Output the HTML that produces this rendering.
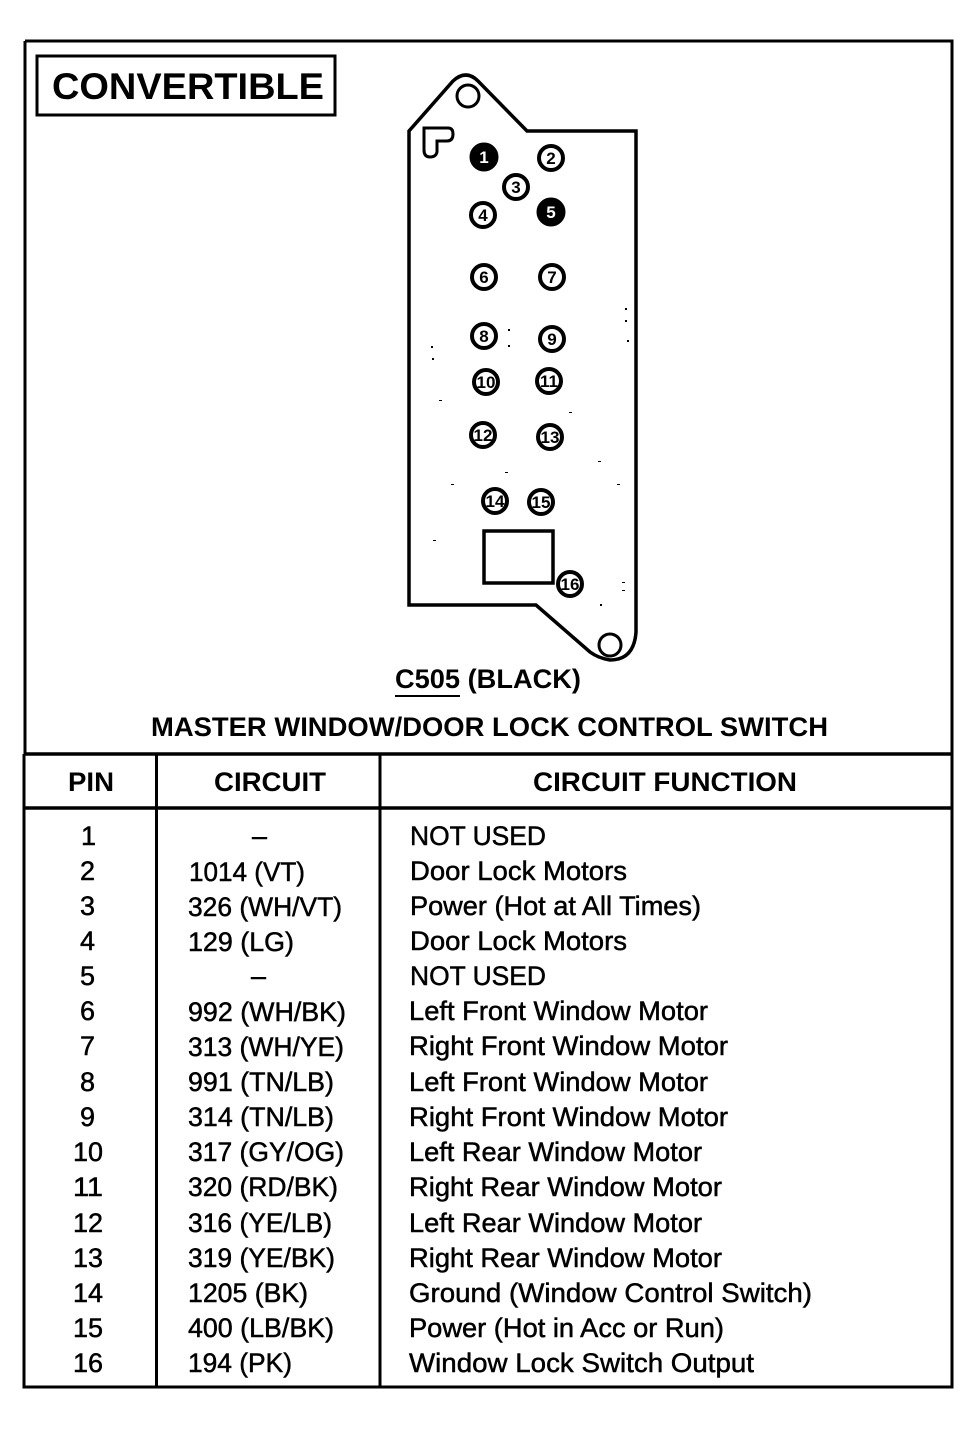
<!DOCTYPE html>
<html><head><meta charset="utf-8"><style>
html,body{margin:0;padding:0;background:#fff}
svg{display:block}
text{font-family:"Liberation Sans",sans-serif;fill:#000}
.t text{font-size:27px;stroke:#000;stroke-width:.5px}
.b{font-weight:bold}
.n text{font-size:17px;text-anchor:middle;font-weight:bold}
.n circle{fill:#fff;stroke:#000;stroke-width:4}
</style></head><body>
<svg width="980" height="1440" viewBox="0 0 980 1440" xmlns="http://www.w3.org/2000/svg">
<rect width="980" height="1440" fill="#fff"/>
<g fill="none" stroke="#000" stroke-width="3">
<path d="M25 41H952V1387H24V754M25 754V41"/>
<path d="M25 754H952" stroke-width="3.5"/>
<path d="M25 808H952" stroke-width="3.5"/>
<path d="M156.500 755V1386M380 755V1386"/>
<rect x="37" y="56" width="298" height="59"/>
<path d="M409 131 L453 81 Q466 69 478 81 L527 131 H636 V632 Q634 660 610 660 Q598 658 590 652 L536 605 H409 Z" stroke-width="3.500"/>
<circle cx="468" cy="96" r="11"/>
<circle cx="610" cy="645" r="11"/>
<path d="M424 128 H448 Q453 128 453 134 V134 Q453 141 447 141 H437 V152 Q436 157 430 157 Q424 157 424 150 Z"/>
<rect x="484" y="531" width="69" height="52" stroke-width="3.500"/>
<path d="M395 696H460" stroke-width="2"/>
</g>
<g class="n">
<circle cx="484" cy="157" r="12.500" style="fill:#000"/><text x="484" y="163" style="fill:#fff">1</text>
<circle cx="551" cy="158" r="12"/><text x="551" y="164">2</text>
<circle cx="516" cy="187" r="12"/><text x="516" y="193">3</text>
<circle cx="483" cy="215" r="12"/><text x="483" y="221">4</text>
<circle cx="551" cy="212" r="12.500" style="fill:#000"/><text x="551" y="218" style="fill:#fff">5</text>
<circle cx="484" cy="277" r="12"/><text x="484" y="283">6</text>
<circle cx="552" cy="277" r="12"/><text x="552" y="283">7</text>
<circle cx="484" cy="336" r="12"/><text x="484" y="342">8</text>
<circle cx="552" cy="339" r="12"/><text x="552" y="345">9</text>
<circle cx="486" cy="382" r="12"/><text x="486" y="388">10</text>
<circle cx="549" cy="381" r="12"/><text x="549" y="387">11</text>
<circle cx="483" cy="435" r="12"/><text x="483" y="441">12</text>
<circle cx="550" cy="437" r="12"/><text x="550" y="443">13</text>
<circle cx="495" cy="501" r="12"/><text x="495" y="507">14</text>
<circle cx="541" cy="502" r="12"/><text x="541" y="508">15</text>
<circle cx="570" cy="584" r="12"/><text x="570" y="590">16</text>
</g>
<g fill="#000">
<rect x="508" y="329" width="2" height="2"/><rect x="508" y="345" width="2" height="2"/><rect x="431" y="346" width="2" height="2"/><rect x="432" y="358" width="2" height="2"/><rect x="625" y="308" width="2" height="2"/><rect x="625" y="320" width="2" height="2"/><rect x="627" y="340" width="2" height="2"/><rect x="439" y="400" width="3" height="1"/><rect x="569" y="412" width="3" height="1"/><rect x="598" y="461" width="3" height="1"/><rect x="505" y="472" width="3" height="1"/><rect x="451" y="484" width="3" height="1"/><rect x="617" y="484" width="3" height="1"/><rect x="433" y="540" width="3" height="1"/><rect x="622" y="582" width="3" height="1"/><rect x="622" y="590" width="3" height="1"/><rect x="600" y="604" width="2" height="2"/>
</g>
<text class="b" x="52" y="99" font-size="37" textLength="272" lengthAdjust="spacingAndGlyphs">CONVERTIBLE</text>
<text class="b" x="395" y="688" font-size="27" textLength="186" lengthAdjust="spacingAndGlyphs">C505 (BLACK)</text>
<text class="b" x="151" y="736" font-size="27" textLength="677" lengthAdjust="spacingAndGlyphs">MASTER WINDOW/DOOR LOCK CONTROL SWITCH</text>
<text class="b" x="68" y="791" font-size="27" textLength="46" lengthAdjust="spacingAndGlyphs">PIN</text>
<text class="b" x="214" y="791" font-size="27" textLength="112" lengthAdjust="spacingAndGlyphs">CIRCUIT</text>
<text class="b" x="533" y="791" font-size="27" textLength="264" lengthAdjust="spacingAndGlyphs">CIRCUIT FUNCTION</text>
<g class="t">
<text x="81" y="845">1</text><text x="252" y="845" textLength="15" lengthAdjust="spacingAndGlyphs">–</text><text x="410" y="845" textLength="136" lengthAdjust="spacingAndGlyphs">NOT USED</text>
<text x="80" y="880">2</text><text x="189" y="881" textLength="116" lengthAdjust="spacingAndGlyphs">1014 (VT)</text><text x="410" y="880" textLength="217" lengthAdjust="spacingAndGlyphs">Door Lock Motors</text>
<text x="80" y="915">3</text><text x="188" y="916" textLength="154" lengthAdjust="spacingAndGlyphs">326 (WH/VT)</text><text x="410" y="915" textLength="291" lengthAdjust="spacingAndGlyphs">Power (Hot at All Times)</text>
<text x="80" y="950">4</text><text x="188" y="951" textLength="106" lengthAdjust="spacingAndGlyphs">129 (LG)</text><text x="410" y="950" textLength="217" lengthAdjust="spacingAndGlyphs">Door Lock Motors</text>
<text x="80" y="985">5</text><text x="251" y="985" textLength="15" lengthAdjust="spacingAndGlyphs">–</text><text x="410" y="985" textLength="136" lengthAdjust="spacingAndGlyphs">NOT USED</text>
<text x="80" y="1020">6</text><text x="188" y="1021" textLength="158" lengthAdjust="spacingAndGlyphs">992 (WH/BK)</text><text x="409" y="1020" textLength="299" lengthAdjust="spacingAndGlyphs">Left Front Window Motor</text>
<text x="80" y="1055">7</text><text x="188" y="1056" textLength="156" lengthAdjust="spacingAndGlyphs">313 (WH/YE)</text><text x="409" y="1055" textLength="319" lengthAdjust="spacingAndGlyphs">Right Front Window Motor</text>
<text x="80" y="1091">8</text><text x="188" y="1091" textLength="146" lengthAdjust="spacingAndGlyphs">991 (TN/LB)</text><text x="409" y="1091" textLength="299" lengthAdjust="spacingAndGlyphs">Left Front Window Motor</text>
<text x="80" y="1126">9</text><text x="188" y="1126" textLength="146" lengthAdjust="spacingAndGlyphs">314 (TN/LB)</text><text x="409" y="1126" textLength="319" lengthAdjust="spacingAndGlyphs">Right Front Window Motor</text>
<text x="73" y="1161" textLength="30" lengthAdjust="spacingAndGlyphs">10</text><text x="188" y="1161" textLength="156" lengthAdjust="spacingAndGlyphs">317 (GY/OG)</text><text x="409" y="1161" textLength="293" lengthAdjust="spacingAndGlyphs">Left Rear Window Motor</text>
<text x="73" y="1196" textLength="30" lengthAdjust="spacingAndGlyphs">11</text><text x="188" y="1196" textLength="150" lengthAdjust="spacingAndGlyphs">320 (RD/BK)</text><text x="409" y="1196" textLength="313" lengthAdjust="spacingAndGlyphs">Right Rear Window Motor</text>
<text x="73" y="1232" textLength="30" lengthAdjust="spacingAndGlyphs">12</text><text x="188" y="1232" textLength="144" lengthAdjust="spacingAndGlyphs">316 (YE/LB)</text><text x="409" y="1232" textLength="293" lengthAdjust="spacingAndGlyphs">Left Rear Window Motor</text>
<text x="73" y="1267" textLength="30" lengthAdjust="spacingAndGlyphs">13</text><text x="188" y="1267" textLength="147" lengthAdjust="spacingAndGlyphs">319 (YE/BK)</text><text x="409" y="1267" textLength="313" lengthAdjust="spacingAndGlyphs">Right Rear Window Motor</text>
<text x="73" y="1302" textLength="30" lengthAdjust="spacingAndGlyphs">14</text><text x="188" y="1302" textLength="120" lengthAdjust="spacingAndGlyphs">1205 (BK)</text><text x="409" y="1302" textLength="403" lengthAdjust="spacingAndGlyphs">Ground (Window Control Switch)</text>
<text x="73" y="1337" textLength="30" lengthAdjust="spacingAndGlyphs">15</text><text x="188" y="1337" textLength="146" lengthAdjust="spacingAndGlyphs">400 (LB/BK)</text><text x="409" y="1337" textLength="315" lengthAdjust="spacingAndGlyphs">Power (Hot in Acc or Run)</text>
<text x="73" y="1372" textLength="30" lengthAdjust="spacingAndGlyphs">16</text><text x="188" y="1372" textLength="104" lengthAdjust="spacingAndGlyphs">194 (PK)</text><text x="409" y="1372" textLength="345" lengthAdjust="spacingAndGlyphs">Window Lock Switch Output</text>
</g>
</svg>
</body></html>
